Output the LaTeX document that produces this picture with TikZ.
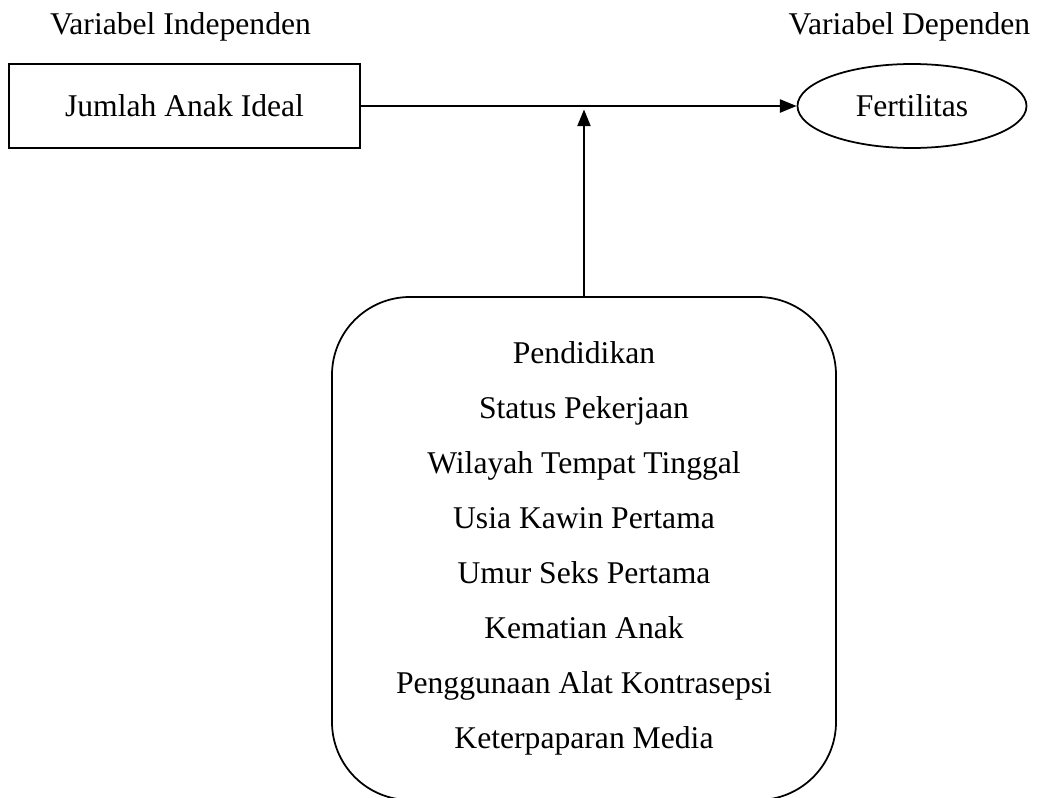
\documentclass[tikz,border=0pt]{standalone}
\usepackage{fontspec}
\setmainfont{Liberation Serif}
\usepackage{tikz}
\usetikzlibrary{arrows.meta,shapes.geometric,positioning}
\tikzset{>={Triangle[length=9.5pt,width=7.5pt]}}
\tikzset{
    kotak/.style={draw, line width=1pt, inner sep=0pt, minimum width=7.02cm, minimum height=1.68cm},
    elips/.style={draw, ellipse, line width=1pt, inner sep=0pt, minimum width=4.58cm, minimum height=1.68cm},
    bulat/.style={draw, rounded corners=1.56cm, line width=1pt, inner sep=0pt, minimum width=10.08cm, minimum height=10.06cm, align=center},
    panah/.style={->, line width=1pt}
}

\begin{document}
\begin{tikzpicture}[scale = 0.2, font=\fontsize{18}{31.3}\selectfont]
                        \useasboundingbox (0,0) rectangle (104.3,79.7);
                        \clip (0,0) rectangle (104.3,79.7);

                        \node[anchor=base] (indep) at (18.05,76.2) {Variabel Independen};
                        \node[anchor=base] (dep) at (90.95,76.2) {Variabel Dependen};

                        \node[kotak] (anak) at (18.45,69.1) {Jumlah Anak Ideal};
                        \node[elips] (fert) at (91.2,69.1) {Fertilitas};

                        \node[bulat] (faktor) at (58.4,24.85) {Pendidikan\\
                            Status Pekerjaan\\
                            Wilayah Tempat Tinggal\\
                            Usia Kawin Pertama\\
                            Umur Seks Pertama\\
                            Kematian Anak\\
                            Penggunaan Alat Kontrasepsi\\
                            Keterpaparan Media};

                        \coordinate (temu) at (58.4,68.75);

                        \draw[panah] (anak.east) -- (fert.west);
                        \draw[panah] (faktor.north) -- (temu);
                    \end{tikzpicture}
\end{document}
